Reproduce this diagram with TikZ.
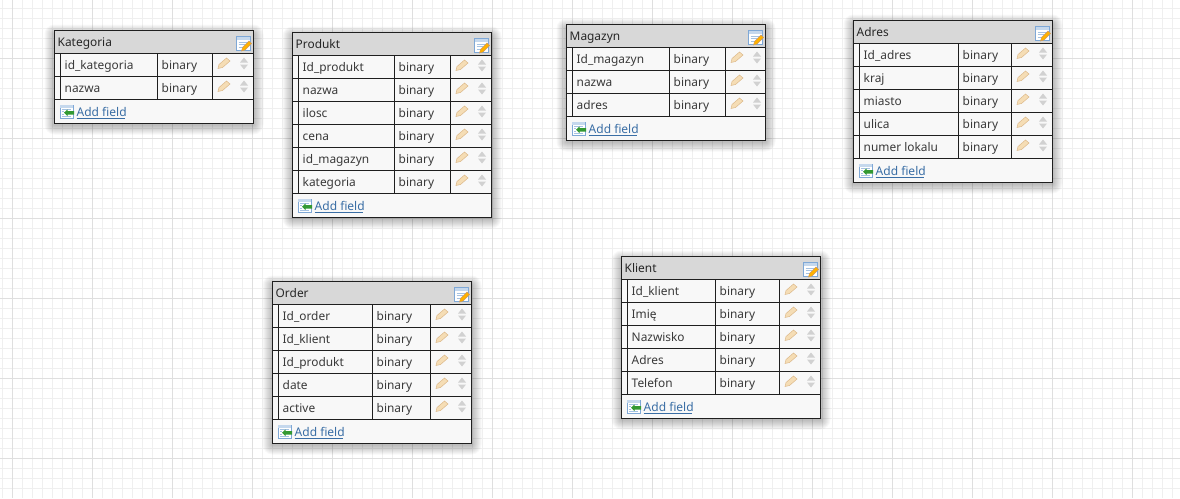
\documentclass[tikz,border=0pt]{standalone}
\usepackage{fontspec}
\setmainfont{Noto Sans}
\definecolor{minorgrid}{HTML}{EFEFEF}
\definecolor{majorgrid}{HTML}{DFDFDF}
\definecolor{headgray}{HTML}{D8D8D8}
\definecolor{rowgray}{HTML}{F8F8F8}
\definecolor{textgray}{HTML}{3A3A3A}
\definecolor{linkblue}{HTML}{3A6EA5}
\definecolor{iconblue}{HTML}{7FA8D6}
\definecolor{pencilfill}{HTML}{F5DDB5}
\definecolor{pencilline}{HTML}{DDB98A}
\tikzset{
  gridthin/.style={minorgrid, line width=1pt},
  gridthick/.style={majorgrid, line width=1pt},
  tableline/.style={black!88, line width=1pt},
  fieldtext/.style={anchor=base west, inner sep=0pt, textgray, font=\fontsize{11.9}{15}\selectfont},
  titletext/.style={anchor=base west, inner sep=0pt, black!85, font=\fontsize{11.9}{15}\selectfont},
  linktext/.style={anchor=base west, inner sep=0pt, linkblue, font=\fontsize{12}{15}\selectfont},
  spinner/.style={fill=black!18, draw=none},
}

% one small pencil, (0,0) is the top left corner of its row cell
\newcommand{\rowpencil}{
  \fill [pencilfill, draw=pencilline, line width=0.5pt] (5.5,15)--(6.5,11)--(14,4.5)--(17.5,7.5)--(10,14)--cycle;
  \fill [spinner] (27.5,9)--(31.5,4)--(35.5,9)--cycle;
  \fill [spinner] (27.5,11)--(31.5,16)--(35.5,11)--cycle;
}

% name, x, y, type column, tool column, rows, title, fields
\newcommand{\dbtable}[8]{
\begin{scope}[shift={(#2,#3)}]
  \pgfmathsetmacro{\rowsend}{23+23*#6}
  \pgfmathsetmacro{\tableend}{\rowsend+24}
  % shadow
  \foreach \s in {1,...,10}
    \fill [black, opacity=0.028, rounded corners=\s pt] (-\s,-\s+4) rectangle (199+\s,\tableend+\s+1);
  % body and head
  \fill [rowgray] (0,0) rectangle (199,\tableend);
  \fill [headgray] (0,0) rectangle (199,23);
  \node [titletext] (#1-title) at (3,15.5) {#7};
  % head icon
  \fill [white, draw=iconblue, line width=1pt] (182,6) rectangle (195.5,19.5);
  \fill [iconblue!45] (182,6) rectangle (195.5,9);
  \draw [iconblue!70, line width=0.6pt] (184,11.5)--(193,11.5) (184,14)--(190,14) (184,16.5)--(188,16.5);
  \fill [orange!60!yellow, draw=brown!80, line width=0.4pt] (187,20.5)--(188,17)--(194.5,10.5)--(197,13)--(190.5,19.5)--cycle;
  % rows
  \foreach \field/\kind [count=\i] in {#8} {
    \pgfmathsetmacro{\rowtop}{23*\i}
    \begin{scope}[shift={(0,\rowtop)}]
      \node [fieldtext] (#1-f\i) at (10,16) {\field};
      \node [fieldtext] (#1-t\i) at (#4+4,16) {\kind};
      \begin{scope}[shift={(#5,0)}]
        \rowpencil
      \end{scope}
      \draw [tableline] (0,23)--(199,23);
    \end{scope}
  }
  \draw [tableline] (0,23)--(199,23);
  \draw [tableline] (6,23)--(6,\rowsend);
  \draw [tableline] (#4,23)--(#4,\rowsend);
  \draw [tableline] (#5,23)--(#5,\rowsend);
  % add field
  \begin{scope}[shift={(0,\rowsend)}]
    \fill [white, draw=iconblue, line width=1pt] (5.5,5.5) rectangle (18.5,18.5);
    \fill [iconblue!45] (5.5,5.5) rectangle (18.5,8);
    \draw [iconblue!70, line width=0.6pt] (7.5,9.5)--(16.5,9.5) (7.5,12)--(9,12) (7.5,14.5)--(9,14.5) (7.5,17)--(16.5,17);
    \fill [green!50!black!80] (19.5,11.5) rectangle (13,15) (13,10)--(13,16.5)--(9.5,13.2)--cycle;
    \node [linktext] (#1-add) at (22,17) {Add field};
    \draw [linkblue, line width=0.8pt] (22,19)--(70.5,19);
  \end{scope}
  \draw [tableline] (0,0) rectangle (199,\tableend);
\end{scope}
}

\begin{document}
\begin{tikzpicture}[x=1pt,y=-1pt]
\useasboundingbox (0,0) rectangle (1180,498);
\fill [white] (0,0) rectangle (1180,498);

% grid
\foreach \gx in {2.5,12.5,...,1179}
  \draw [gridthin] (\gx,0)--(\gx,498);
\foreach \gy in {8.5,18.5,...,497}
  \draw [gridthin] (0,\gy)--(1180,\gy);
\foreach \gx in {12.5,92.5,...,1179}
  \draw [gridthick] (\gx,0)--(\gx,498);
\foreach \gy in {58.5,138.5,...,497}
  \draw [gridthick] (0,\gy)--(1180,\gy);

% tables
\dbtable{kategoria}{54.5}{30.5}{103}{158}{2}{Kategoria}{id\_kategoria/binary,nazwa/binary}
\dbtable{produkt}{292.5}{32.5}{102}{158}{6}{Produkt}{Id\_produkt/binary,nazwa/binary,ilosc/binary,cena/binary,id\_magazyn/binary,kategoria/binary}
\dbtable{magazyn}{566.5}{24.5}{103}{159}{3}{Magazyn}{Id\_magazyn/binary,nazwa/binary,adres/binary}
\dbtable{adres}{853.5}{20.5}{105}{158}{5}{Adres}{Id\_adres/binary,kraj/binary,miasto/binary,ulica/binary,numer lokalu/binary}
\dbtable{order}{272.5}{281.5}{100}{158}{5}{Order}{Id\_order/binary,Id\_klient/binary,Id\_produkt/binary,date/binary,active/binary}
\dbtable{klient}{621.5}{256.5}{94}{158}{5}{Klient}{Id\_klient/binary,Imię/binary,Nazwisko/binary,Adres/binary,Telefon/binary}

\end{tikzpicture}
\end{document}
